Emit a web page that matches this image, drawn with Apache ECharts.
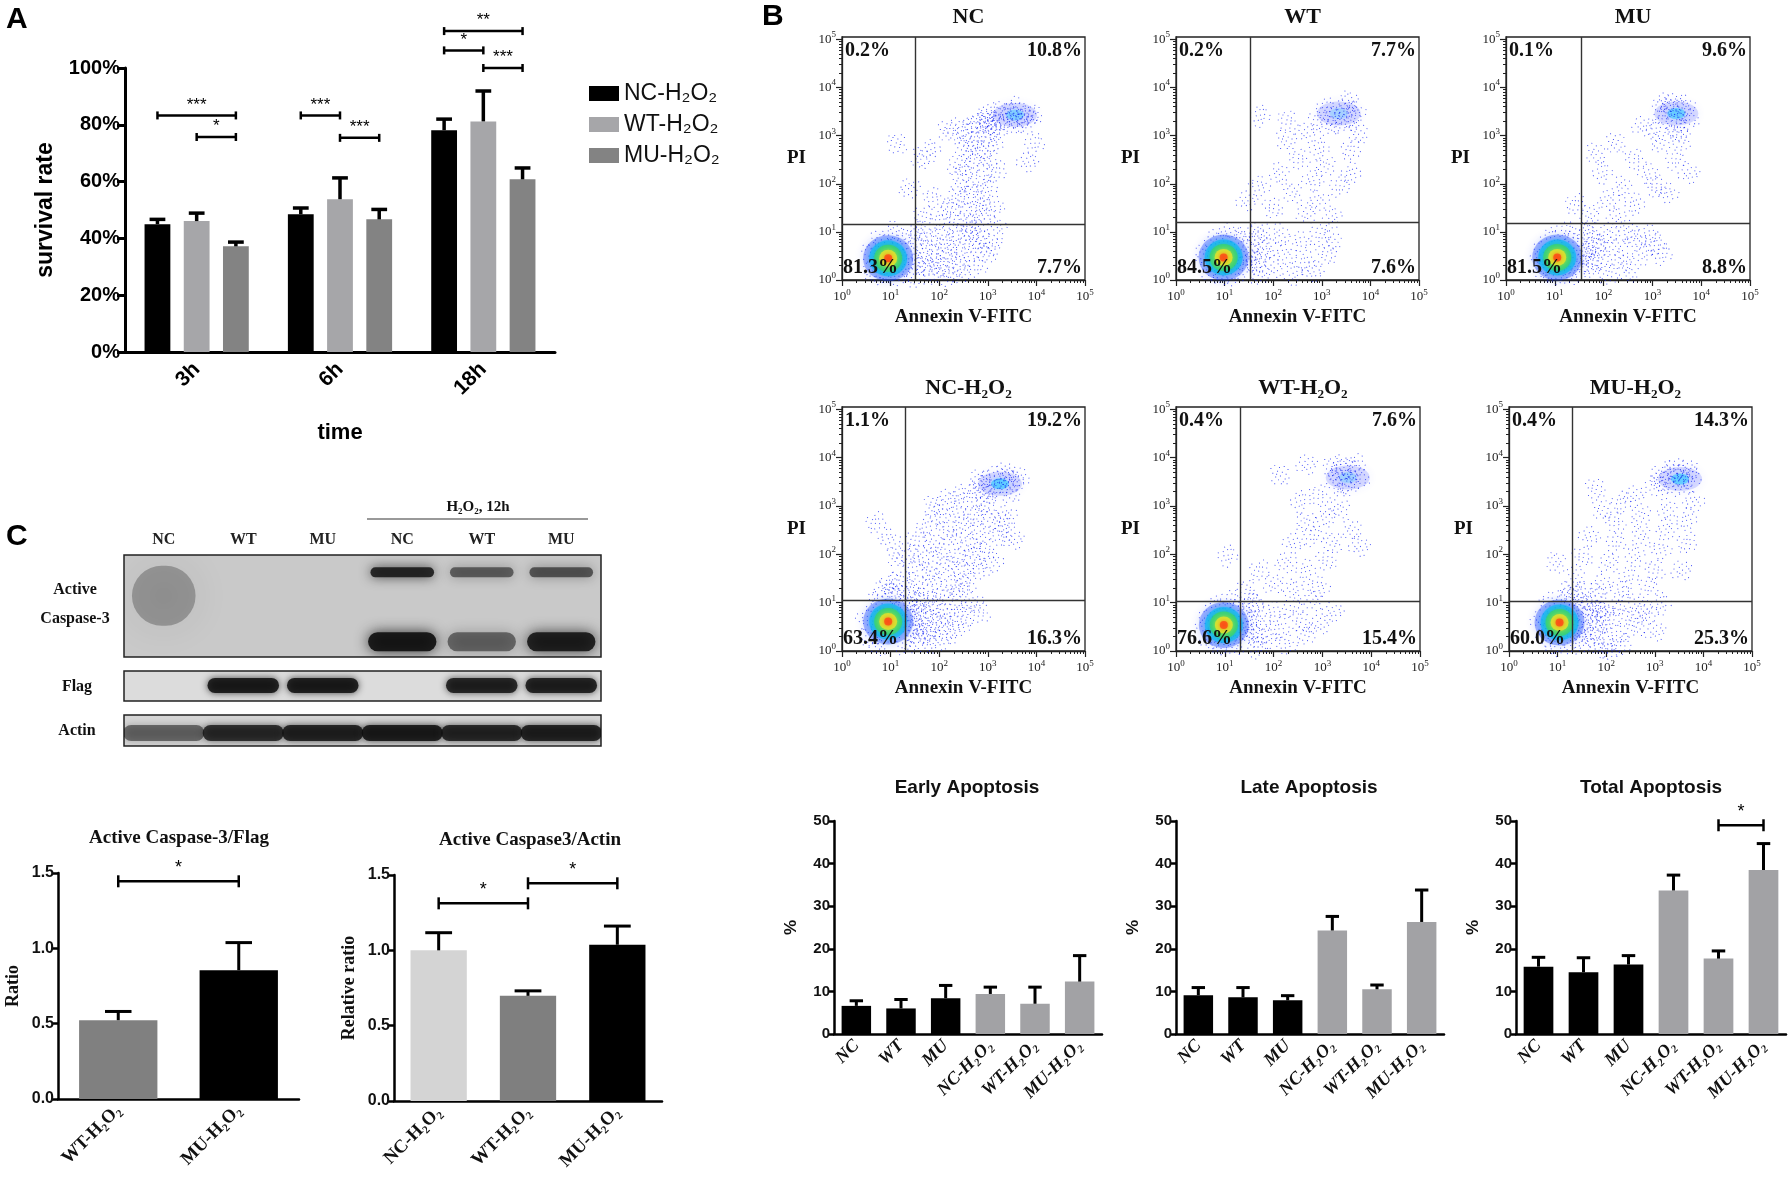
<!DOCTYPE html>
<html><head><meta charset="utf-8">
<script src="https://cdn.jsdelivr.net/npm/echarts@6/dist/echarts.min.js"></script>
<style>html,body{margin:0;padding:0;background:#fff}#c{width:1791px;height:1180px}</style>
</head><body><div id="c"></div>
<script>
// ================= DATA =================
// Panel A
const timeCats = ['3h', '6h', '18h'];
const survNames = ['NC-H₂O₂', 'WT-H₂O₂', 'MU-H₂O₂'];
const survNC = [45.0, 48.5, 78.1];
const survNCerr = [1.7, 2.2, 3.9];
const survWT = [46.1, 53.8, 81.2];
const survWTerr = [2.8, 7.5, 10.7];
const survMU = [37.2, 46.7, 60.8];
const survMUerr = [1.5, 3.5, 4.0];
// [group1, series1, group2, series2, y, text]
const survSig = [[0,0,0,2,83.3,'***'],[0,1,0,2,75.7,'*'],[1,0,1,1,83.3,'***'],[1,1,1,2,75.4,'***'],[2,0,2,2,113,'**'],[2,0,2,1,106.2,'*'],[2,1,2,2,100,'***']];

// Panel B (flow cytometry, log10 units)
const flowTitles = ['NC', 'WT', 'MU', 'NC-H₂O₂', 'WT-H₂O₂', 'MU-H₂O₂'];
const flowQuad = [['0.2%','10.8%','81.3%','7.7%'],['0.2%','7.7%','84.5%','7.6%'],['0.1%','9.6%','81.5%','8.8%'],['1.1%','19.2%','63.4%','16.3%'],['0.4%','7.6%','76.6%','15.4%'],['0.4%','14.3%','60.0%','25.3%']];
const flowGateX = [1.50, 1.52, 1.54, 1.30, 1.32, 1.31];
const flowGateY = [1.15, 1.19, 1.17, 1.06, 1.04, 1.04];
const flowCore = [[0.95,0.45],[0.98,0.47],[1.05,0.47],[0.95,0.61],[0.98,0.54],[1.04,0.59]];
const flowCluster = [[3.56,3.43],[3.35,3.46],[3.49,3.46],[3.25,3.46],[3.52,3.59],[3.52,3.56]];
const flowClusterDensity = [0.6, 0.3, 0.8, 0.9, 0.35, 0.85];
const flowPtsNC = [[2.17,3.10],[2.37,3.17],[2.57,3.10],[2.78,3.24],[2.98,3.31],[3.12,3.10],[2.64,2.88],[2.85,2.96],[2.51,2.75],[2.92,2.68],[3.12,2.82],[2.71,2.54],[2.37,2.39],[2.98,2.39],[2.57,2.26],[3.19,2.26],[2.43,2.04],[2.78,2.04],[2.98,1.90],[2.64,1.77],[2.37,1.70],[2.85,1.62],[3.12,1.55],[2.23,1.48],[2.57,1.41],[2.92,1.34],[2.03,1.28],[2.37,1.20],[2.71,1.17],[1.82,2.68],[1.89,1.70],[1.68,1.34],[1.62,2.54],[3.81,2.46],[3.95,2.82],[1.13,2.82],[1.40,1.90],
  [1.62,0.99],[1.82,0.85],[2.03,0.92],[2.23,0.71],[2.43,0.92],[2.64,0.77],[2.85,0.85],[3.06,0.71],[1.75,0.57],[1.96,0.43],[2.17,0.57],[2.37,0.35],[2.57,0.50],[2.78,0.28],[2.98,0.57],[1.68,0.28],[1.89,0.15],[2.17,0.08],[2.43,0.15],[3.19,1.06],[2.71,0.99],[1.54,0.05],[2.03,0.28],
  [2.92,3.39],[3.06,3.45],[3.19,3.17],[3.33,3.52],[3.47,3.45],[3.67,3.48],[3.81,3.39],[3.75,3.24],[3.40,3.24],[3.54,3.59],[3.91,3.45],[2.98,3.21],[3.61,3.28],[3.26,3.34],
  [0.65,0.20],[0.75,0.80],[1.25,0.85],[1.35,0.30],[0.60,0.55],[1.45,0.60],[1.05,1.00],[1.15,0.10],[0.85,0.10],[1.50,0.90],[1.60,0.35]];
const flowPtsWT = [[2.26,2.92],[2.67,3.06],[2.94,2.71],[2.54,2.50],[3.08,2.36],[2.13,2.22],[2.81,2.08],[3.35,1.94],[2.40,1.80],[2.94,1.65],[3.61,2.22],[1.99,1.51],[2.67,1.37],[3.21,1.30],[1.72,1.94],[3.61,2.71],[3.75,3.06],[1.45,1.65],[1.72,3.40],[2.30,3.30],
  [1.72,1.00],[2.13,0.95],[2.54,0.81],[2.94,0.95],[1.86,0.67],[2.26,0.53],[2.67,0.39],[3.08,0.53],[1.99,0.25],[2.40,0.11],[1.58,0.39],[1.72,0.11],[3.21,0.81],[2.81,0.18],
  [3.08,3.56],[3.28,3.42],[3.49,3.56],[3.61,3.35],[3.35,3.27],[3.15,3.20],[3.55,3.70],[3.69,3.49],[2.94,3.35],
  [0.70,0.20],[0.80,0.85],[1.30,0.85],[1.40,0.30],[0.60,0.55],[1.50,0.60],[1.10,1.00],[1.20,0.10],[0.90,0.10],[1.60,0.90],[1.65,0.35],[1.75,0.60]];
const flowPtsMU = [[2.25,2.85],[2.79,3.20],[1.97,2.22],[2.65,2.50],[3.19,2.85],[2.38,1.94],[2.92,2.22],[3.46,2.50],[3.60,2.92],[2.11,1.65],[2.65,1.58],[3.06,1.94],[1.71,1.37],[2.25,1.30],[3.32,1.80],[1.43,1.58],[1.84,2.64],[3.74,2.22],[3.06,3.13],
  [1.71,1.02],[2.11,0.95],[2.52,1.02],[2.92,0.95],[1.84,0.74],[2.25,0.67],[2.65,0.81],[3.06,0.74],[1.97,0.46],[2.38,0.39],[2.79,0.53],[1.71,0.25],[2.11,0.11],[2.52,0.18],[1.57,0.53],[3.19,0.53],
  [3.19,3.56],[3.40,3.63],[3.60,3.49],[3.74,3.35],[3.46,3.27],[3.26,3.38],[3.66,3.63],[3.53,3.10],[3.33,3.70],
  [0.80,0.20],[0.90,0.85],[1.40,0.85],[1.50,0.30],[0.70,0.55],[1.60,0.60],[1.20,1.00],[1.30,0.10],[1.00,0.10],[1.70,0.90],[1.75,0.35],[1.85,0.65]];
const flowPtsNCH = [[1.88,3.01],[2.16,3.15],[2.42,3.21],[2.70,3.15],[2.97,3.01],[2.02,2.80],[2.36,2.87],[2.70,2.80],[3.05,2.73],[3.39,2.80],[1.75,2.59],[2.16,2.52],[2.50,2.59],[2.84,2.45],[3.25,2.38],[1.53,2.31],[1.88,2.24],[2.30,2.31],[2.63,2.18],[2.97,2.10],[1.34,2.03],[1.67,1.96],[2.02,2.03],[2.36,1.90],[2.70,1.96],[3.11,1.83],[1.47,1.76],[1.81,1.68],[2.16,1.76],[2.50,1.62],[2.84,1.68],[1.20,1.48],[1.53,1.41],[1.88,1.48],[2.22,1.34],[2.56,1.41],[1.06,1.20],[1.40,1.24],[1.75,1.17],[2.08,1.13],[2.42,1.20],[0.98,2.31],[0.71,2.66],[1.12,1.96],[3.52,2.31],[3.34,2.59],
  [1.47,1.00],[1.67,0.85],[1.88,1.00],[2.08,0.78],[2.30,0.93],[2.50,0.71],[2.70,1.00],[1.61,0.58],[1.81,0.43],[2.02,0.58],[2.22,0.37],[2.42,0.51],[1.53,0.30],[1.75,0.16],[2.02,0.23],[1.40,0.71],[2.84,0.78],
  [2.84,3.56],[2.97,3.42],[3.11,3.63],[3.18,3.35],[3.39,3.56],[3.52,3.50],[3.66,3.56],[3.46,3.28],[3.34,3.70],[3.05,3.28],[2.84,3.35],
  [0.60,0.30],[0.70,1.00],[1.25,0.95],[1.45,0.40],[1.15,1.15],[0.85,1.25],[1.55,0.70],[0.50,0.65],[1.30,0.12],[0.75,0.12],[1.70,0.35],[1.00,1.40],[1.60,1.00],[1.85,0.65]];
const flowPtsWTH = [[2.13,3.65],[2.67,3.86],[2.54,3.08],[2.94,3.22],[2.67,2.66],[3.08,2.80],[2.40,2.24],[2.81,2.38],[3.21,2.24],[2.26,1.82],[2.67,1.67],[3.08,1.89],[1.99,1.39],[2.40,1.25],[2.94,1.32],[1.72,1.67],[3.61,2.52],[3.75,2.17],[1.05,1.96],[1.45,1.25],[3.35,2.94],
  [1.58,0.97],[1.99,0.83],[2.40,0.90],[2.81,1.04],[1.72,0.62],[2.13,0.48],[2.54,0.62],[2.94,0.55],[1.86,0.27],[2.26,0.13],[2.67,0.34],[1.52,0.41],[3.21,0.83],[1.66,0.06],
  [3.21,3.79],[3.41,3.86],[3.61,3.72],[3.75,3.58],[3.55,3.47],[3.28,3.51],[3.35,3.65],[3.69,3.86],[3.41,3.40],
  [0.70,0.25],[0.80,0.90],[1.30,0.90],[1.40,0.35],[0.60,0.60],[1.50,0.65],[1.10,1.05],[1.20,0.12],[0.90,0.12],[1.60,0.95],[1.65,0.30]];
const flowPtsMUH = [[1.91,2.94],[2.59,3.22],[3.00,3.44],[2.19,2.66],[2.72,2.80],[3.26,2.94],[1.65,2.38],[2.19,2.24],[2.72,2.38],[3.26,2.52],[3.67,2.73],[1.51,1.96],[2.05,1.82],[2.59,1.96],[3.13,2.10],[3.67,2.24],[1.37,1.53],[1.91,1.39],[2.45,1.53],[3.00,1.67],[1.25,1.25],[1.78,1.18],[2.32,1.25],[2.86,1.32],[0.97,1.82],[3.81,3.08],[2.32,3.08],[1.78,3.37],[3.54,1.67],
  [1.51,0.97],[1.91,0.90],[2.32,0.97],[2.72,0.90],[1.65,0.69],[2.05,0.62],[2.45,0.69],[2.86,0.76],[1.78,0.41],[2.19,0.34],[2.59,0.48],[1.51,0.20],[1.91,0.06],[2.32,0.13],[1.37,0.48],[3.00,0.41],[3.13,0.97],[2.05,0.02],
  [3.13,3.65],[3.33,3.72],[3.54,3.65],[3.74,3.58],[3.60,3.44],[3.40,3.40],[3.20,3.47],[3.46,3.79],[3.67,3.75],
  [0.75,0.30],[0.85,1.00],[1.35,0.95],[1.50,0.40],[0.65,0.65],[1.60,0.70],[1.20,1.10],[1.30,0.12],[0.95,0.12],[1.70,0.95],[1.75,0.30],[1.85,0.60],[1.95,0.80],[1.45,1.20]];
const flowPts = [flowPtsNC, flowPtsWT, flowPtsMU, flowPtsNCH, flowPtsWTH, flowPtsMUH];
const flowMajor = [0, 1, 2, 3, 4, 5];

// Panel C blot (band intensity per lane, 0..1)
const laneLabels = ['NC', 'WT', 'MU', 'NC', 'WT', 'MU'];
const caspUpper = [0, 0, 0, 0.92, 0.6, 0.65];
const caspLower = [0, 0, 0, 1.0, 0.55, 0.95];
const caspSmear = [0.30, 0, 0, 0, 0, 0];
const flagBand = [0, 0.95, 0.95, 0, 0.9, 0.92];
const actinBand = [0.55, 0.85, 0.9, 0.95, 0.88, 0.92];

// Panel C quantification
const c1Cats = ['WT-H₂O₂', 'MU-H₂O₂'];
const c1Vals = [0.523, 0.855];
const c1Err = [0.058, 0.183];
const c2Cats = ['NC-H₂O₂', 'WT-H₂O₂', 'MU-H₂O₂'];
const c2Vals = [1.0, 0.698, 1.037];
const c2Err = [0.117, 0.033, 0.124];

// Panel B apoptosis bars
const apoCats = ['NC', 'WT', 'MU', 'NC-H₂O₂', 'WT-H₂O₂', 'MU-H₂O₂'];
const earlyVals = [6.6, 6.0, 8.4, 9.4, 7.1, 12.3];
const earlyErr = [1.2, 2.1, 3.0, 1.6, 3.9, 6.1];
const lateVals = [9.1, 8.6, 7.9, 24.3, 10.5, 26.3];
const lateErr = [1.8, 2.3, 1.1, 3.3, 1.0, 7.5];
const totalVals = [15.8, 14.5, 16.3, 33.7, 17.7, 38.5];
const totalErr = [2.2, 3.4, 2.1, 3.6, 1.8, 6.2];

// ================= BUILD =================
const SANS = '"Liberation Sans", Arial, Helvetica, sans-serif';
const SERIF = '"Liberation Serif", "Times New Roman", serif';
const grids = [], xAxes = [], yAxes = [], series = [], gfx = [];

function addGrid(g) { grids.push(g); return grids.length - 1; }
function addX(a) { xAxes.push(a); return xAxes.length - 1; }
function addY(a) { yAxes.push(a); return yAxes.length - 1; }

function errSeries(xi, yi, vals, errs, o) {
  return {
    type: 'custom', xAxisIndex: xi, yAxisIndex: yi, clip: false, silent: true, z: 3,
    data: vals.map((v, i) => [i, v, v + errs[i]]),
    renderItem(params, api) {
      const cw = api.size([1, 0])[0];
      const p0 = api.coord([api.value(0), api.value(1)]);
      const p1 = api.coord([api.value(0), api.value(2)]);
      const x = p0[0] + (o.offset || 0) * cw, cap = cw * o.cap;
      const st = { stroke: '#000', lineWidth: o.lw };
      return { type: 'group', children: [
        { type: 'line', shape: { x1: x, y1: p0[1], x2: x, y2: p1[1] }, style: st },
        { type: 'line', shape: { x1: x - cap / 2, y1: p1[1], x2: x + cap / 2, y2: p1[1] }, style: st }
      ]};
    }
  };
}
// rows: [g1, off1, g2, off2, y, text]
function sigSeries(xi, yi, rows, o) {
  return {
    type: 'custom', xAxisIndex: xi, yAxisIndex: yi, clip: false, silent: true, z: 4,
    data: rows.map(r => [r[0], r[4]]),
    renderItem(params, api) {
      const r = rows[params.dataIndex];
      const cw = api.size([1, 0])[0];
      const xa = api.coord([r[0], 0])[0] + r[1] * cw;
      const xb = api.coord([r[2], 0])[0] + r[3] * cw;
      const y = api.coord([r[0], r[4]])[1];
      const st = { stroke: '#000', lineWidth: o.lw };
      return { type: 'group', children: [
        { type: 'line', shape: { x1: xa, y1: y, x2: xb, y2: y }, style: st },
        { type: 'line', shape: { x1: xa, y1: y - o.tick, x2: xa, y2: y + o.tick }, style: st },
        { type: 'line', shape: { x1: xb, y1: y - o.tick, x2: xb, y2: y + o.tick }, style: st },
        { type: 'text', style: { text: r[5], x: (xa + xb) / 2, y: y - o.gap, align: 'center', verticalAlign: 'bottom', fontSize: o.fs, fontFamily: SANS, fill: '#000' } }
      ]};
    }
  };
}
function txt(text, x, y, o) {
  gfx.push({ type: 'text', x, y, z: 100, silent: true, style: Object.assign({ text, fill: '#111', align: 'center', verticalAlign: 'middle' }, o) });
}

// ---------- Panel A ----------
{
  const g = addGrid({ left: 125, top: 68, width: 430, height: 284 });
  const xi = addX({ gridIndex: g, type: 'category', data: timeCats,
    axisLine: { lineStyle: { color: '#000', width: 3 } },
    axisTick: { alignWithLabel: true, length: 8, lineStyle: { width: 3, color: '#000' } },
    axisLabel: { rotate: 45, fontSize: 21, fontWeight: 'bold', fontFamily: SANS, color: '#000', margin: 14 },
    name: 'time', nameLocation: 'middle', nameGap: 70,
    nameTextStyle: { fontSize: 22, fontWeight: 'bold', fontFamily: SANS, color: '#000' } });
  const yi = addY({ gridIndex: g, type: 'value', min: 0, max: 100, interval: 20,
    axisLine: { show: true, lineStyle: { color: '#000', width: 3 } },
    axisTick: { show: true, length: 8, lineStyle: { width: 3, color: '#000' } },
    splitLine: { show: false },
    axisLabel: { formatter: '{value}%', fontSize: 20, fontWeight: 'bold', fontFamily: SANS, color: '#000', margin: 5 },
    name: 'survival rate', nameLocation: 'middle', nameGap: 68,
    nameTextStyle: { fontSize: 23, fontWeight: 'bold', fontFamily: SANS, color: '#000' } });
  const cols = ['#000000', '#a6a6a9', '#838383'];
  const vals = [survNC, survWT, survMU], errs = [survNCerr, survWTerr, survMUerr];
  const step = 0.18 * 1.52;
  vals.forEach((v, s) => {
    series.push({ type: 'bar', name: survNames[s], xAxisIndex: xi, yAxisIndex: yi, data: v, barWidth: '18%', barGap: '52%', itemStyle: { color: cols[s] }, z: 2 });
    series.push(errSeries(xi, yi, v, errs[s], { offset: (s - 1) * step, cap: 0.11, lw: 3.5 }));
  });
  series.push(sigSeries(xi, yi, survSig.map(r => [r[0], (r[1] - 1) * step, r[2], (r[3] - 1) * step, r[4], r[5]]), { lw: 2.5, tick: 4, gap: 2, fs: 17 }));
}

// ---------- Panel B flow plots ----------
const flowRects = [[842,37,243,243],[1176,37,243,243],[1506,37,244,243],[842,407,243,244],[1176,407,244,244],[1509,407,243,244]];
const minorVals = [];
for (let k = 0; k < 5; k++) for (let m = 2; m <= 9; m++) minorVals.push(k + Math.log10(m));
const SPECKLE = 'path://M0 3h1v1H0z M4 0h1v1H4z M9 2h1v1H9z M14 1h1v1H14z M18 4h1v1H18z M2 8h1v1H2z M7 6h1v1H7z M12 7h1v1H12z M16 9h1v1H16z M5 12h1v1H5z M10 11h1v1H10z M19 13h1v1H19z M1 16h1v1H1z M8 15h1v1H8z M13 17h1v1H13z M17 19h1v1H17z M4 19h1v1H4z M11 19h1v1H11z M15 14h1v1H15z M6 9h1v1H6z';
const supRich = { b: { fontSize: 13, fontFamily: SERIF, color: '#222' }, s: { fontSize: 9, fontFamily: SERIF, color: '#222', padding: [0, 0, 9, 0] } };
flowRects.forEach((r, k) => {
  const [L, T, Wd, H] = r;
  const g = addGrid({ left: L, top: T, width: Wd, height: H, show: true, borderColor: '#222', borderWidth: 1.3, backgroundColor: '#fff' });
  const nameStyle = { fontSize: 19, fontWeight: 'bold', fontFamily: SERIF, color: '#111' };
  const xi = addX({ gridIndex: g, type: 'value', min: 0, max: 5,
    axisLine: { show: true, lineStyle: { color: '#222', width: 1.3 } },
    axisTick: { show: true, customValues: flowMajor, length: 6, lineStyle: { color: '#222', width: 1.2 } },
    axisLabel: { customValues: flowMajor, formatter: v => '{b|10}{s|' + v + '}', rich: supRich, margin: 8 },
    splitLine: { show: false },
    name: 'Annexin V-FITC', nameLocation: 'middle', nameGap: 28, nameTextStyle: nameStyle });
  addX({ gridIndex: g, type: 'value', min: 0, max: 5, position: 'bottom',
    axisLine: { show: false }, axisTick: { show: true, customValues: minorVals, length: 3, lineStyle: { color: '#222', width: 1 } },
    axisLabel: { show: false }, splitLine: { show: false } });
  const yi = addY({ gridIndex: g, type: 'value', min: 0, max: 5.05,
    axisLine: { show: true, lineStyle: { color: '#222', width: 1.3 } },
    axisTick: { show: true, customValues: flowMajor, length: 6, lineStyle: { color: '#222', width: 1.2 } },
    axisLabel: { customValues: flowMajor, formatter: v => '{b|10}{s|' + v + '}', rich: supRich, margin: 6 },
    splitLine: { show: false },
    name: 'PI', nameLocation: 'middle', nameRotate: 0, nameGap: 36, nameTextStyle: nameStyle });
  addY({ gridIndex: g, type: 'value', min: 0, max: 5.05, position: 'left',
    axisLine: { show: false }, axisTick: { show: true, customValues: minorVals, length: 3, lineStyle: { color: '#222', width: 1 } },
    axisLabel: { show: false }, splitLine: { show: false } });
  // cluster haze (late apoptotic)
  const cd = flowClusterDensity[k];
  series.push({ type: 'scatter', xAxisIndex: xi, yAxisIndex: yi, silent: true, z: 1,
    data: [
      { value: flowCluster[k], symbolSize: [44, 24], itemStyle: { color: 'rgba(50,70,255,0.22)', shadowBlur: 10, shadowColor: 'rgba(50,70,255,0.4)' } },
      { value: flowCluster[k], symbolSize: [18, 11], itemStyle: { color: `rgba(0,200,255,${0.65 * cd})`, shadowBlur: 6, shadowColor: 'rgba(0,200,255,0.4)' } }
    ] });
  // speckled events
  series.push({ type: 'scatter', xAxisIndex: xi, yAxisIndex: yi, silent: true, z: 2,
    symbol: SPECKLE, symbolSize: 19,
    data: flowPts[k].map((p, i) => ({ value: p, symbolRotate: (i * 67) % 360 })),
    itemStyle: { color: '#1020f5' },
    markLine: { silent: true, symbol: 'none', label: { show: false },
      lineStyle: { color: '#333', width: 1.4, type: 'solid' },
      data: [{ xAxis: flowGateX[k] }, { yAxis: flowGateY[k] }] } });
  // live-cell density core
  const rings = [[[50, 46], 'rgba(25,55,255,0.45)', 10], [[38, 36], 'rgba(0,185,255,0.8)', 7], [[28, 27], 'rgba(60,215,100,0.9)', 6], [[18, 17], 'rgba(240,230,40,0.92)', 5], [[8, 8], 'rgba(255,60,20,0.9)', 4]];
  series.push({ type: 'scatter', xAxisIndex: xi, yAxisIndex: yi, silent: true, z: 3,
    data: rings.map(rg => ({ value: flowCore[k], symbolSize: rg[0], itemStyle: { color: rg[1], shadowBlur: rg[2], shadowColor: rg[1] } })) });
  // labels
  const titleY = k < 3 ? 17 : 388;
  txt(flowTitles[k], L + Wd / 2 + 5, titleY, { fontSize: 22, fontWeight: 'bold', fontFamily: SERIF });
  const q = flowQuad[k], qs = { fontSize: 20, fontWeight: 'bold', fontFamily: SERIF, fill: '#111' };
  txt(q[0], L + 3, T + 14, Object.assign({ align: 'left' }, qs));
  txt(q[1], L + Wd - 3, T + 14, Object.assign({ align: 'right' }, qs));
  txt(q[2], L + 1, T + H - 12, Object.assign({ align: 'left' }, qs));
  txt(q[3], L + Wd - 3, T + H - 12, Object.assign({ align: 'right' }, qs));
});

// ---------- Panel C blot ----------
function bandSeries(xi, yi, vals, rowY, h, wf, blur) {
  return { type: 'custom', xAxisIndex: xi, yAxisIndex: yi, silent: true, clip: true,
    data: vals.map((v, i) => [i, v]),
    renderItem(params, api) {
      const v = api.value(1);
      if (!(v > 0)) return;
      const c = api.coord([api.value(0), rowY]);
      const w = api.size([1, 0])[0] * wf;
      const col = `rgba(14,14,14,${v * 0.9})`;
      return { type: 'rect', shape: { x: c[0] - w / 2, y: c[1] - h / 2, width: w, height: h, r: h / 2 }, style: { fill: col, shadowBlur: blur, shadowColor: col } };
    } };
}
const blotRows = [
  { top: 555, h: 102, bg: '#c9c9c9', showLanes: true, bands: [[caspSmear, 0.6, 60, 0.8, 40], [caspUpper, 0.83, 10, 0.8, 12], [caspLower, 0.15, 19, 0.86, 14]] },
  { top: 671, h: 30, bg: '#dcdcdc', showLanes: false, bands: [[flagBand, 0.52, 15, 0.9, 7]] },
  { top: 715, h: 31, bg: '#d6d6d6', showLanes: false, bands: [[actinBand, 0.42, 16, 1.02, 7]] }
];
blotRows.forEach(br => {
  const g = addGrid({ left: 124, top: br.top, width: 477, height: br.h, show: true, backgroundColor: br.bg, borderColor: '#222', borderWidth: 1.5 });
  const xi = addX({ gridIndex: g, type: 'category', data: laneLabels.map((l, i) => 'L' + i), position: 'top',
    axisLine: { show: false }, axisTick: { show: false },
    axisLabel: { show: br.showLanes, formatter: (v, i) => laneLabels[i], fontSize: 16, fontWeight: 'bold', fontFamily: SERIF, color: '#222', margin: 7 } });
  const yi = addY({ gridIndex: g, type: 'value', min: 0, max: 1, show: false });
  br.bands.forEach(b => series.push(bandSeries(xi, yi, b[0], b[1], b[2], b[3], b[4])));
});
txt('H₂O₂, 12h', 478, 507, { fontSize: 15, fontWeight: 'bold', fontFamily: SERIF });
gfx.push({ type: 'line', silent: true, shape: { x1: 367, y1: 519, x2: 588, y2: 519 }, style: { stroke: '#777', lineWidth: 1.5 } });
txt('Active', 75, 590, { fontSize: 16, fontWeight: 'bold', fontFamily: SERIF });
txt('Caspase-3', 75, 619, { fontSize: 16, fontWeight: 'bold', fontFamily: SERIF });
txt('Flag', 77, 687, { fontSize: 16, fontWeight: 'bold', fontFamily: SERIF });
txt('Actin', 77, 731, { fontSize: 16, fontWeight: 'bold', fontFamily: SERIF });

// ---------- generic small bar chart ----------
function smallBars(rect, cats, vals, errs, colors, o) {
  const g = addGrid({ left: rect[0], top: rect[1], width: rect[2], height: rect[3] });
  const xi = addX({ gridIndex: g, type: 'category', data: cats,
    axisLine: { lineStyle: { color: '#000', width: o.axW } },
    axisTick: { alignWithLabel: true, length: 6, lineStyle: { width: o.axW, color: '#000' } },
    axisLabel: Object.assign({ rotate: 45, fontWeight: 'bold', fontFamily: SERIF, color: '#111', margin: 9, interval: 0 }, o.xLabel) });
  const yi = addY({ gridIndex: g, type: 'value', min: 0, max: o.max, interval: o.interval,
    axisLine: { show: true, lineStyle: { color: '#000', width: o.axW } },
    axisTick: { show: true, length: 6, lineStyle: { width: o.axW, color: '#000' } },
    splitLine: { show: false },
    axisLabel: { formatter: o.fmt, fontSize: o.yfs, fontWeight: 'bold', fontFamily: SANS, color: '#111', margin: 4 },
    name: o.yName, nameLocation: 'middle', nameGap: o.nameGap,
    nameTextStyle: Object.assign({ fontWeight: 'bold', color: '#111' }, o.nameStyle) });
  series.push({ type: 'bar', xAxisIndex: xi, yAxisIndex: yi, barWidth: o.barW, z: 2,
    data: vals.map((v, i) => ({ value: v, itemStyle: { color: colors[i] } })) });
  series.push(errSeries(xi, yi, vals, errs, { cap: o.cap, lw: 3 }));
  if (o.sig) series.push(sigSeries(xi, yi, o.sig, { lw: 2.5, tick: 6, gap: 4, fs: 18 }));
}

// C1 / C2
smallBars([58, 873, 241, 226], c1Cats, c1Vals, c1Err, ['#808080', '#000000'], {
  max: 1.5, interval: 0.5, fmt: v => v.toFixed(1), yfs: 16, axW: 2.5, barW: '65%', cap: 0.22,
  yName: 'Ratio', nameGap: 36, nameStyle: { fontSize: 18, fontFamily: SERIF },
  xLabel: { fontSize: 18.5 }, sig: [[0, 0, 1, 0, 1.445, '*']] });
smallBars([394, 875, 268, 226], c2Cats, c2Vals, c2Err, ['#d4d4d4', '#7f7f7f', '#000000'], {
  max: 1.5, interval: 0.5, fmt: v => v.toFixed(1), yfs: 16, axW: 2.5, barW: '63%', cap: 0.3,
  yName: 'Relative ratio', nameGap: 36, nameStyle: { fontSize: 18, fontFamily: SERIF },
  xLabel: { fontSize: 18.5 }, sig: [[0, 0, 1, 0, 1.312, '*'], [1, 0, 2, 0, 1.445, '*']] });
txt('Active Caspase-3/Flag', 179, 838, { fontSize: 19, fontWeight: 'bold', fontFamily: SERIF });
txt('Active Caspase3/Actin', 530, 840, { fontSize: 19, fontWeight: 'bold', fontFamily: SERIF });

// Apoptosis
const apoColors = ['#000', '#000', '#000', '#a2a2a5', '#a2a2a5', '#a2a2a5'];
const apoOpt = (sig) => ({ max: 50, interval: 10, fmt: '{value}', yfs: 15, axW: 2.5, barW: '66%', cap: 0.3,
  yName: '%', nameGap: 34, nameStyle: { fontSize: 17, fontFamily: SANS },
  xLabel: { fontSize: 18, fontStyle: 'italic' }, sig });
smallBars([834, 821, 268, 213], apoCats, earlyVals, earlyErr, apoColors, apoOpt(null));
smallBars([1176, 821, 268, 213], apoCats, lateVals, lateErr, apoColors, apoOpt(null));
smallBars([1516, 821, 270, 213], apoCats, totalVals, totalErr, apoColors, apoOpt([[4, 0, 5, 0, 49.0, '*']]));
txt('Early Apoptosis', 967, 788, { fontSize: 19, fontWeight: 'bold', fontFamily: SANS });
txt('Late Apoptosis', 1309, 788, { fontSize: 19, fontWeight: 'bold', fontFamily: SANS });
txt('Total Apoptosis', 1651, 788, { fontSize: 19, fontWeight: 'bold', fontFamily: SANS });

// Panel letters
txt('A', 6, 20, { align: 'left', fontSize: 30, fontWeight: 'bold', fontFamily: SANS, fill: '#000' });
txt('B', 762, 17, { align: 'left', fontSize: 30, fontWeight: 'bold', fontFamily: SANS, fill: '#000' });
txt('C', 6, 537, { align: 'left', fontSize: 30, fontWeight: 'bold', fontFamily: SANS, fill: '#000' });

const chart = echarts.init(document.getElementById('c'), null, { renderer: 'canvas', width: 1791, height: 1180 });
chart.setOption({
  animation: false, backgroundColor: '#fff',
  grid: grids, xAxis: xAxes, yAxis: yAxes, series,
  legend: { data: survNames, left: 584, top: 77, orient: 'vertical', icon: 'rect', itemWidth: 30, itemHeight: 15, itemGap: 8,
    textStyle: { fontSize: 23, fontFamily: SANS, color: '#111' }, selectedMode: false },
  graphic: { elements: gfx }
});
</script></body></html>
